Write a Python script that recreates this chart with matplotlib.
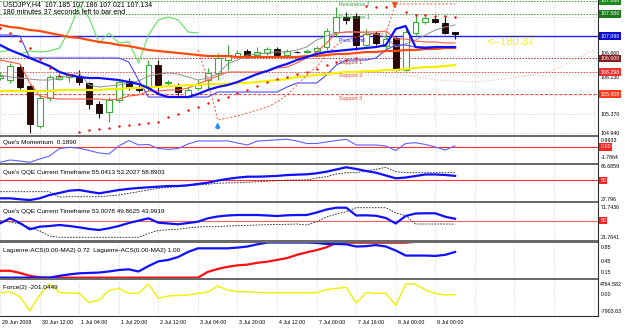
import matplotlib
matplotlib.use("Agg")
import matplotlib.pyplot as plt
from matplotlib.patches import Rectangle

plt.rcParams['font.family'] = ['Liberation Sans', 'DejaVu Sans']

W, H = 625, 328
WP = 598  # right edge of plotting area in pixels

# ---------------- data ----------------
opens = [106.165, 106.121, 106.408, 105.988, 105.104, 105.723, 106.143, 106.187, 106.187, 106.055,
         105.591, 105.414, 105.679, 106.099, 105.966, 105.944, 106.453, 106.055, 105.966, 105.745,
         105.944, 106.121, 106.276, 106.563, 106.651, 106.762, 106.673, 106.718, 106.806, 106.673,
         106.740, 106.740, 106.762, 106.850, 107.182, 107.513, 107.535, 106.894, 107.160, 106.872,
         107.049, 106.342, 107.160, 107.403, 107.469, 107.381, 107.185]
highs = [106.298, 106.497, 106.475, 106.010, 105.790, 106.231, 106.276, 106.276, 106.342, 106.077,
         105.657, 105.745, 106.099, 106.165, 106.010, 106.563, 106.563, 106.121, 106.055, 105.966,
         106.121, 106.386, 106.718, 106.894, 106.784, 106.806, 106.850, 106.850, 106.850, 106.806,
         106.762, 106.806, 106.872, 107.270, 107.734, 107.624, 107.602, 107.248, 107.204, 107.160,
         107.093, 107.270, 107.557, 107.535, 107.513, 107.535, 107.186]
lows = [106.121, 106.055, 105.922, 104.950, 105.060, 105.657, 106.121, 106.077, 106.010, 105.480,
        105.281, 105.193, 105.635, 105.900, 105.856, 105.878, 105.834, 105.988, 105.790, 105.723,
        105.900, 105.900, 106.121, 106.342, 106.607, 106.607, 106.629, 106.673, 106.629, 106.629,
        106.718, 106.718, 106.718, 106.784, 107.071, 107.359, 106.784, 106.850, 106.894, 106.784,
        106.320, 106.320, 107.116, 107.359, 107.381, 107.138, 107.021]
closes = [106.209, 106.430, 105.966, 105.149, 105.723, 106.187, 106.209, 106.231, 106.077, 105.591,
          105.392, 105.679, 106.077, 105.966, 105.900, 106.453, 106.010, 106.077, 105.856, 105.900,
          106.010, 106.276, 106.607, 106.673, 106.718, 106.651, 106.740, 106.806, 106.673, 106.762,
          106.735, 106.762, 106.828, 107.204, 107.513, 107.447, 106.894, 107.138, 106.939, 107.027,
          106.342, 107.182, 107.403, 107.491, 107.403, 107.160, 107.134]

ma_fast = [106.894, 106.784, 106.696, 106.607, 106.519, 106.430, 106.298, 106.231, 106.187, 106.165,
           106.165, 106.143, 106.121, 106.077, 106.033, 105.944, 105.812, 105.745, 105.745, 105.745,
           105.812, 105.900, 105.966, 106.010, 106.077, 106.165, 106.254, 106.320, 106.408, 106.475,
           106.563, 106.629, 106.696, 106.740, 106.762, 106.784, 106.806, 106.828, 106.850, 106.894,
           107.248, 107.314, 106.850, 106.828, 106.850, 106.850, 106.850]
ma_slow = [107.337, 107.292, 107.270, 107.226, 107.204, 107.160, 107.116, 107.071, 107.049, 107.005,
           106.961, 106.939, 106.894, 106.872, 106.828, 106.784, 106.762, 106.740, 106.718, 106.696,
           106.673, 106.651, 106.651, 106.651, 106.629, 106.629, 106.629, 106.629, 106.629, 106.629,
           106.629, 106.651, 106.651, 106.673, 106.696, 106.696, 106.718, 106.740, 106.740, 106.762,
           106.762, 106.784, 106.784, 106.806, 106.806, 106.828, 106.828]
ma_yellow = [105.878, 105.878, 105.878, 105.878, 105.878, 105.878, 105.900, 105.900, 105.900, 105.900,
             105.900, 105.922, 105.922, 105.944, 105.944, 105.966, 105.966, 105.988, 105.988, 106.010,
             106.010, 106.033, 106.033, 106.033, 106.055, 106.055, 106.077, 106.099, 106.121, 106.143,
             106.187, 106.209, 106.231, 106.254, 106.276, 106.298, 106.298, 106.320, 106.320, 106.342,
             106.342, 106.364, 106.386, 106.408, 106.408, 106.430, 106.453]
kijun = [107.116, 107.116, 107.093, 106.607, 106.607, 106.607, 106.607, 106.607, 106.607, 106.607,
         106.607, 106.607, 106.607, 106.519, 106.121, 105.745, 105.745, 105.745, 105.745, 105.745,
         105.745, 105.745, 105.856, 105.856, 105.856, 105.856, 105.856, 105.856, 105.856, 105.966,
         106.055, 106.055, 106.055, 106.231, 106.453, 106.563, 106.563, 106.563, 106.607, 106.784,
         106.894, 106.894, 106.850, 106.850, 106.850, 106.850, 106.850]
tenkan = [106.563, 106.519, 106.475, 106.055, 105.767, 105.723, 105.701, 105.701, 105.701, 105.701,
          105.701, 105.679, 105.701, 105.767, 105.790, 105.878, 105.878, 105.900, 105.900, 105.944,
          106.033, 106.121, 106.209, 106.298, 106.298, 106.298, 106.298, 106.320, 106.386, 106.408,
          106.497, 106.607, 106.740, 106.939, 107.160, 107.182, 107.182, 107.182, 107.182, 107.204,
          107.027, 107.027, 106.983, 106.961, 106.961, 106.939, 106.939]
ma_gray = [106.231, 106.187, 106.165, 106.143, 106.121, 106.121, 106.165, 106.231, 106.276, 106.010,
           105.966, 105.988, 106.010, 106.055, 106.099, 106.209, 106.254, 106.276, 106.254, 106.187,
           106.121, 106.165, 106.254, 106.475, 106.563, 106.673, 106.696, 106.718, 106.740, 106.740,
           106.784, 106.850, 107.005, 107.093, 107.160, 107.182, 107.182, 107.160, 107.138, 107.071,
           106.850, 106.917, 107.005, 107.116, 107.226, 107.292, 107.337]
chikou = [106.740, 106.784, 106.696, 106.762, 106.740, 106.762, 106.828, 107.226, 107.779, 107.491,
          106.939, 107.160, 106.939, 106.961, 106.497, 107.116, 107.447, 107.513, 107.447, 107.182,
          107.160]
trail_start = 20
trail = [106.784, 106.121, 105.237, 105.281, 105.325, 105.392, 105.458, 105.524, 105.635, 105.790,
         106.010, 106.231, 106.408, 106.673, 106.894, 107.005, 107.071, 107.116, 107.138, 107.160,
         107.801, 107.801, 107.801, 107.801, 107.801, 107.801, 107.801]
span_bars = [41, 44, 48, 52, 56, 60]
span_vals = [106.231, 106.121, 106.077, 106.165, 106.342, 106.784]

sar_lo_bars = list(range(8, 37))
sar_lo = [104.972, 105.016, 105.038, 105.071, 105.104, 105.127, 105.149, 105.171, 105.193, 105.303,
          105.370, 105.458, 105.524, 105.613, 105.679, 105.745, 105.834, 105.900, 105.988, 106.077,
          106.143, 106.187, 106.254, 106.298, 106.364, 106.453, 106.519, 106.563, 106.607]
sar_hi_bars = [0, 1, 2, 3, 4, 5, 6, 7, 37, 38, 39, 41, 42, 43, 44, 45, 46]
sar_hi = [107.270, 107.160, 106.983, 106.828, 106.585, 106.386, 106.209, 106.231, 107.756, 107.734,
          107.734, 107.624, 107.557, 107.557, 107.535, 107.535, 107.513]

pivot_names = ["Resistance 2", "Resistance 1", "Pivot Level", "Support 1", "Support 2", "Support 3"]
pivot_vals = [107.868, 107.580, 107.090, 106.600, 106.298, 105.808]
pivot_cols = ["#3a9a3a", "#3a9a3a", "#2020ff", "#a03030", "#ff4040", "#ff3a2a"]
pivot_box = ["#1a8a1a", "#1a7a1a", "#0a0ad0", "#8b1c1c", "#ee3333", "#ff3a1a"]

# plain price-scale labels (the ones hidden under coloured boxes are left out)
price_ticks = [104.940, 105.370, 105.800, 106.230, 106.660, 107.090, 107.520]
price_labels = ["104.940", "105.370", "", "106.230", "106.660", "", ""]
price_va = ["center", "center", "center", "top", "bottom", "center", "center"]

momentum = [-2.50, -2.13, -2.29, -2.50, -1.96, -1.47, -0.25, -0.05, -0.21, -0.57,
            -0.98, -1.14, 0.16, 1.06, 0.33, 0.41, -0.25, -0.38, -0.25, 0.49,
            0.98, 0.98, 0.98, 1.01, 0.65, 0.33, 0.98, 1.06, 1.18, 1.26,
            0.98, 0.57, 0.57, 0.82, 1.06, 1.26, 0.33, 0.33, 0.33, 0.16,
            -0.57, 0.57, 0.70, 0.41, 0.00, -0.49, 0.19]
qqe1_main = [28.6, 28.6, 27.5, 26.6, 28.6, 32.5, 35.0, 37.6, 38.4, 36.4,
             34.5, 36.4, 38.4, 39.8, 40.8, 41.6, 42.3, 43.1, 43.1, 44.0,
             45.5, 47.0, 49.5, 51.5, 53.0, 54.1, 54.1, 54.5, 55.0, 56.0,
             56.5, 56.9, 58.1, 60.0, 62.6, 65.2, 63.2, 60.8, 58.8, 55.5,
             52.2, 53.1, 54.9, 56.7, 56.7, 56.1, 55.04]
qqe1_sig = [36.4, 36.4, 36.4, 36.4, 36.4, 36.4, 30.0, 30.5, 30.5, 30.5,
            30.5, 31.5, 32.5, 34.5, 36.4, 38.5, 40.4, 41.5, 42.3, 43.5,
            44.3, 45.3, 46.3, 46.8, 47.0, 47.6, 48.2, 48.8, 49.4, 50.0,
            50.2, 50.2, 52.5, 54.1, 57.3, 58.8, 58.8, 60.8, 62.8, 65.2,
            60.0, 58.8, 58.8, 58.8, 58.8, 58.8, 58.89]
qqe2_main = [45.4, 53.8, 45.9, 35.3, 39.7, 40.8, 42.5, 40.8, 38.6, 35.8,
             34.1, 37.0, 40.8, 45.9, 49.8, 53.8, 46.4, 45.1, 43.7, 45.9,
             48.1, 53.8, 56.9, 58.6, 59.4, 59.4, 59.4, 58.6, 57.7, 58.9,
             59.4, 59.4, 63.6, 68.7, 71.7, 71.7, 58.6, 58.9, 58.1, 54.3,
             45.1, 57.7, 62.0, 62.3, 62.3, 56.5, 53.0]
qqe2_sig = [49.8, 47.6, 44.2, 38.6, 32.4, 23.9, 21.8, 21.8, 21.8, 21.8,
            21.8, 21.8, 21.8, 21.8, 21.8, 28.5, 33.2, 34.4, 35.3, 37.5,
            39.2, 39.7, 39.7, 40.8, 41.3, 42.0, 42.5, 43.0, 43.4, 43.7,
            44.2, 42.5, 48.1, 56.0, 61.1, 65.0, 71.7, 71.7, 71.7, 71.7,
            62.8, 58.6, 44.2, 44.2, 44.2, 44.2, 43.99]
lag_blue = [0.01, 0.01, 0.01, 0.01, 0.01, 0.01, 0.06, 0.10, 0.13, 0.14,
            0.15, 0.18, 0.22, 0.24, 0.18, 0.33, 0.46, 0.50, 0.58, 0.72,
            0.82, 0.82, 0.82, 0.82, 0.84, 0.87, 0.93, 0.98, 0.98, 0.98,
            0.98, 0.98, 0.97, 0.94, 0.94, 0.93, 0.87, 0.88, 0.91, 0.87,
            0.76, 0.62, 0.62, 0.62, 0.61, 0.64, 0.72]
lag_red = [0.20, 0.20, 0.14, 0.06, 0.02, 0.01, 0.01, 0.01, 0.01, 0.01,
           0.01, 0.01, 0.01, 0.01, 0.01, 0.01, 0.01, 0.01, 0.01, 0.01,
           0.01, 0.17, 0.25, 0.31, 0.35, 0.37, 0.42, 0.45, 0.50, 0.55,
           0.64, 0.71, 0.77, 0.85, 0.97, 0.975, 0.975, 0.975, 0.975, 0.975,
           0.975, 0.975, 1.0, 1.0, 1.0, 1.0, 1.0]
force = [704, 1173, -1173, -7882, -375, 4764, 798, 563, 422, -3988,
         -2721, 1736, 2768, 422, 422, 4764, -1924, -845, -610, -375,
         328, 1032, 3847, 1971, 1173, 1173, 891, 704, 704, 704,
         704, 704, 704, 2205, 2768, 3237, -4129, 704, 422, 422,
         -5302, 4764, 4764, 1971, 422, -375, -201]

time_labels = ["29 Jun 2008", "30 Jun 12:00", "1 Jul 04:00", "1 Jul 20:00", "2 Jul 12:00",
               "3 Jul 04:00", "3 Jul 20:00", "4 Jul 12:00", "7 Jul 00:00", "7 Jul 16:00",
               "8 Jul 00:00", "9 Jul 00:00"]

# ---------------- layout ----------------
fig = plt.figure(figsize=(W / 100, H / 100), dpi=100)
fig.patch.set_facecolor("white")


def panel(top, bottom):
    ax = fig.add_axes([0, 1 - bottom / H, WP / W, (bottom - top) / H])
    ax.set_facecolor("white")
    for s in ax.spines.values():
        s.set_visible(False)
    ax.set_xticks([])
    ax.set_yticks([])
    ax.set_xlim(-0.011, 60.45)
    for g in range(0, 61, 4):
        ax.axvline(g, color="#c8c8c8", lw=0.6, ls=(0, (1, 2)), zorder=0)
    return ax


n = len(closes)
bars = list(range(n))
small = 3.8

# main chart
ax = panel(0, 135)
ax.set_ylim(104.906, 107.889)
for t, lab, va in zip(price_ticks, price_labels, price_va):
    ax.axhline(t, color="#c8c8c8", lw=0.6, ls=(0, (1, 2)), zorder=0)
    if lab:
        ax.text(1.004, t, lab, transform=ax.get_yaxis_transform(), fontsize=small,
                va=va, ha="left", clip_on=False)

for v, c, nm in zip(pivot_vals, pivot_cols, pivot_names):
    if nm == "Pivot Level":
        ax.axhline(v, color=c, lw=1.0, zorder=1)
    elif nm == "Support 3":
        ax.axhline(v, color=c, lw=0.7, ls=(0, (3, 2)), zorder=1)
    else:
        ax.axhline(v, color=c, lw=0.7, ls=(0, (1.5, 1.5)), zorder=1)

# candles
for i in bars:
    o, h, l, c = opens[i], highs[i], lows[i], closes[i]
    if c >= o:
        ax.vlines(i, l, h, color="#33b033", lw=0.8, zorder=2)
        ax.add_patch(Rectangle((i - 0.3, o), 0.6, max(c - o, 0.004), facecolor="white",
                               edgecolor="#33b033", lw=0.8, zorder=2))
    else:
        ax.vlines(i, l, h, color="#201010", lw=0.8, zorder=2)
        ax.add_patch(Rectangle((i - 0.3, c), 0.6, o - c, facecolor="#2e0505",
                               edgecolor="#000000", lw=0.6, zorder=2))

# indicators
ax.plot(span_bars, span_vals, color="#f4b090", lw=0.7, ls=(0, (1, 2)), zorder=3)
ax.plot(bars, ma_gray, color="#909090", lw=0.7, zorder=3)
ax.plot(list(range(len(chikou))), chikou, color="#5ee05e", lw=0.8, zorder=3)
ax.plot(bars, tenkan, color="#ff5a40", lw=0.8, zorder=3)
ax.plot(bars, kijun, color="#4a4aff", lw=0.8, zorder=3)
ax.plot(bars, ma_yellow, color="#f5f000", lw=1.6, zorder=3)
ax.plot(bars, ma_slow, color="#ff4a10", lw=1.6, zorder=3)
ax.plot(bars, ma_fast, color="#1010ff", lw=1.6, zorder=4)
ax.plot(list(range(trail_start, trail_start + len(trail))), trail, color="#ff5030", lw=0.7,
        ls=(0, (2, 2)), zorder=3)
ax.scatter(sar_lo_bars, sar_lo, s=3, color="#ff0000", zorder=5, linewidths=0)
ax.scatter(sar_hi_bars, sar_hi, s=3, color="#ff0000", zorder=5, linewidths=0)
ax.annotate("", xy=(22, 105.250), xytext=(22, 104.985),
            arrowprops=dict(arrowstyle="-|>", color="#1e90ff", lw=1.4, mutation_scale=6), zorder=6)
ax.annotate("", xy=(39.9, 107.640), xytext=(39.9, 107.840),
            arrowprops=dict(arrowstyle="-|>", color="#ff4a10", lw=1.4, mutation_scale=6), zorder=6)

for v, c, nm in zip(pivot_vals, pivot_cols, pivot_names):
    ax.text(34.3, v - 0.085, nm, color=c, fontsize=small, va="center", ha="left", zorder=7)

# coloured price boxes on the right
for v, bc in zip(pivot_vals, pivot_box):
    ax.text(1.004, v, "%.3f" % v, transform=ax.get_yaxis_transform(), fontsize=small,
            va="center", ha="left", color="white", clip_on=False, zorder=9,
            bbox=dict(boxstyle="square,pad=0.25", fc=bc, ec="none"))

ax.text(0.005, 0.965, "USDJPY,H4  107.185 107.186 107.021 107.134", transform=ax.transAxes,
        fontsize=5.0, va="center", ha="left")
ax.text(0.005, 0.91, "180 minutes 37 seconds left to bar end", transform=ax.transAxes,
        fontsize=5.0, va="center", ha="left")
ax.text(49.2, 106.960, "<--180:37", color="#eeee20", fontsize=8, va="center", ha="left")


def side_label(a, v, s, box=None):
    kw = dict(transform=a.get_yaxis_transform(), fontsize=small, va="center", ha="left",
              clip_on=False)
    if box:
        kw.update(color="white", bbox=dict(boxstyle="square,pad=0.2", fc=box, ec="none"))
    a.text(1.004, v, s, **kw)


def title(a, s):
    a.text(0.005, 0.78, s, transform=a.transAxes, fontsize=4.6, va="center", ha="left", zorder=8)


# momentum
am = panel(137, 163)
am.set_ylim(-2.616, 1.635)
am.axhline(0, color="#ff3030", lw=0.8, zorder=1)
am.plot(bars, momentum, color="#6060ff", lw=0.8, zorder=2)
title(am, "Que's Momentum  0.1890")
side_label(am, 0.9933, "0.9933")
side_label(am, 0.0, "0.00", box="#ff2020")
side_label(am, -1.7864, "-1.7864")

# QQE 1
aq = panel(165, 201)
aq.set_ylim(25.455, 67.864)
aq.axhline(50, color="#ff3030", lw=0.8, zorder=1)
aq.plot(bars, qqe1_sig, color="#202020", lw=0.6, ls=(0, (2, 1.5)), zorder=2)
aq.plot(bars, qqe1_main, color="#1010ff", lw=1.6, zorder=3)
title(aq, "Que's QQE Current Timeframe 55.0413 53.2027 58.8903")
side_label(aq, 66.6859, "66.6859")
side_label(aq, 50, "50", box="#ff2020")
side_label(aq, 27.796, "27.796")

# QQE 2
aq2 = panel(203, 240)
aq2.set_ylim(17.19, 79.68)
aq2.axhline(50, color="#ff6060", lw=0.8, zorder=1)
aq2.plot(bars, qqe2_sig, color="#202020", lw=0.6, ls=(0, (2, 1.5)), zorder=2)
aq2.plot(bars, qqe2_main, color="#1010ff", lw=1.6, zorder=3)
title(aq2, "Que's QQE Current Timeframe 53.0078 49.8625 43.9919")
side_label(aq2, 71.7436, "71.7436")
side_label(aq2, 50, "50", box="#ff2020")
side_label(aq2, 21.7641, "21.7641")

# Laguerre
al = panel(242.5, 278)
al.set_ylim(0.0, 0.981)
al.plot(bars, lag_red, color="#ff1010", lw=1.6, zorder=2)
al.plot(bars, lag_blue, color="#1010ff", lw=1.6, zorder=3)
title(al, "Laguerre-ACS(0.00-MA2) 0.72  Laguerre-ACS(0.00-MA2) 1.00")
for v in (0.85, 0.45, 0.15):
    side_label(al, v, "%.2f" % v)

# Force
af = panel(280, 315)
af.set_ylim(-9759, 6663)
af.plot(bars, force, color="#f0f000", lw=1.0, zorder=2)
title(af, "Force(2) -201.0449")
side_label(af, 4764.582, "4764.582")
side_label(af, 0, "0.00")
side_label(af, -7903.63, "-7903.63")
for k, lab in enumerate(time_labels):
    af.text(4 * k + 0.2, -0.2, lab, transform=af.get_xaxis_transform(), fontsize=small,
            va="center", ha="left", clip_on=False)

# panel separators and frame
for top, bot in [(135, 137), (163, 165), (201, 203), (240, 242.5), (278, 280)]:
    fig.patches.append(Rectangle((0, 1 - bot / H), WP / W, (bot - top) / H,
                                 transform=fig.transFigure, fc="#6a6a6a", ec="none"))
fig.add_artist(plt.Line2D([WP / W, WP / W], [1 - 316 / H, 1], transform=fig.transFigure,
                          color="#303030", lw=0.8))
fig.add_artist(plt.Line2D([0, WP / W], [1 - 315.5 / H, 1 - 315.5 / H], transform=fig.transFigure,
                          color="#303030", lw=0.8))

fig.savefig("out.png", dpi=100, facecolor="white")
